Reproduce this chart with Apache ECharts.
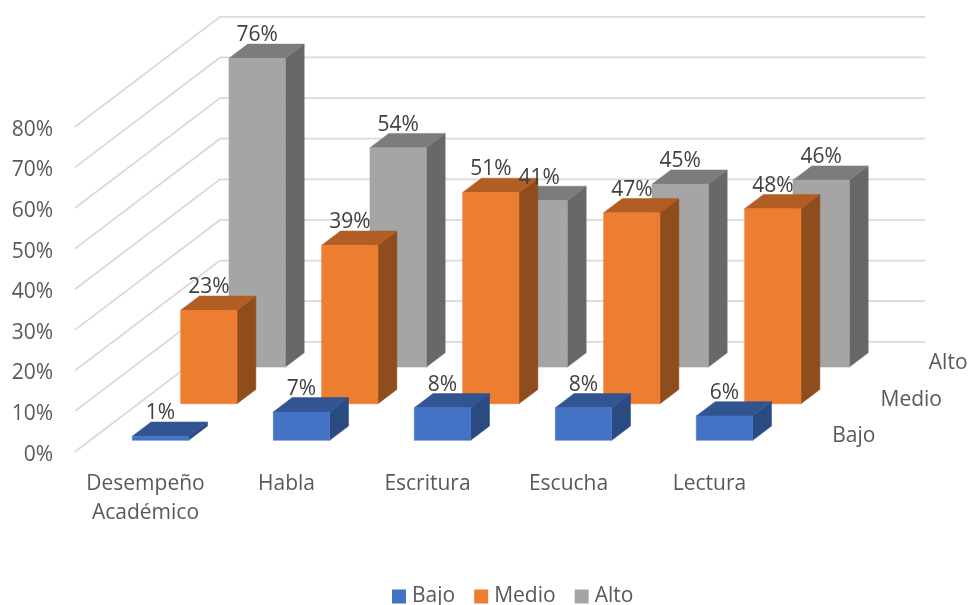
<!DOCTYPE html>
<html><head><meta charset="utf-8">
<script src="https://cdn.jsdelivr.net/npm/echarts@6/dist/echarts.min.js"></script>
<style>html,body{margin:0;padding:0;background:#fff}#c{width:969px;height:605px}</style>
</head><body><div id="c"></div>
<script>
const categories = ['Desempeño\nAcadémico', 'Habla', 'Escritura', 'Escucha', 'Lectura'];
const bajo = [1, 7, 8, 8, 6];
const medio = [23, 39, 52, 47, 48];
const alto = [76, 54, 41, 45, 46];
const bajoLabels = ['1%', '7%', '8%', '8%', '6%'];
const medioLabels = ['23%', '39%', '51%', '47%', '48%'];
const altoLabels = ['76%', '54%', '41%', '45%', '46%'];
const ticks = [0, 10, 20, 30, 40, 50, 60, 70, 80];
const depthNames = ['Bajo', 'Medio', 'Alto'];

const FONT = 'Open Sans';
const FS = 21;
const DEPTH = [48.33, -36.63];          // screen vector of one depth row
const GAP = 0.31, BAR_D = 0.39, BAR_W = 0.4;
const palette = {
  Bajo:  {front: '#4472C4', top: '#325491', side: '#2A4A82'},
  Medio: {front: '#ED7D31', top: '#B25D24', side: '#8F4D1D'},
  Alto:  {front: '#A5A5A5', top: '#7C7C7C', side: '#686868'}
};

function poly(points, fill, z2) {
  return {type: 'polygon', z2, shape: {points}, style: {fill, stroke: fill, lineWidth: 0.5}};
}
function boxSeries(name, values, labels, row) {
  const c = palette[name];
  return {
    name, type: 'custom', coordinateSystem: 'cartesian2d',
    itemStyle: {color: c.front},
    encode: {x: 0, y: 1},
    data: values.map((v, i) => [i, v]),
    renderItem(params, api) {
      const top = api.coord([api.value(0), api.value(1)]);
      const base = api.coord([api.value(0), 0]);
      const w = api.size([1, 0])[0] * BAR_W;
      const ox = (row + GAP) * DEPTH[0], oy = (row + GAP) * DEPTH[1];
      const ddx = BAR_D * DEPTH[0], ddy = BAR_D * DEPTH[1];
      const l = top[0] - w / 2 + ox, r = l + w, t = top[1] + oy, b = base[1] + oy;
      const z = 30 - row * 10;
      return {type: 'group', children: [
        poly([[r, t], [r + ddx, t + ddy], [r + ddx, b + ddy], [r, b]], c.side, z),
        poly([[l, t], [l + ddx, t + ddy], [r + ddx, t + ddy], [r, t]], c.top, z + 1),
        poly([[l, t], [r, t], [r, b], [l, b]], c.front, z + 2),
        {type: 'text', z2: 100, style: {
          text: labels[api.value(0)], x: (l + r) / 2, y: t - 23, align: 'center', verticalAlign: 'middle',
          fill: '#404040', font: FS + 'px "' + FONT + '"'}}
      ]};
    }
  };
}
const wallSeries = {
  name: 'wall', type: 'custom', coordinateSystem: 'cartesian2d', silent: true,
  encode: {y: 0},
  data: ticks.map(t => [t]),
  renderItem(params, api) {
    const cs = params.coordSys;
    const p = api.coord([0, api.value(0)]);
    const x0 = cs.x, y = p[1];
    const bx = x0 + 3 * DEPTH[0], by = y + 3 * DEPTH[1];
    return {type: 'polyline', z2: 1, shape: {points: [[x0, y], [bx, by], [cs.x + cs.width + 3 * DEPTH[0], by]]},
      style: {fill: null, stroke: '#D9D9D9', lineWidth: 1.75}};
  }
};
const depthAxisSeries = {
  name: 'depth', type: 'custom', coordinateSystem: 'cartesian2d', silent: true,
  encode: {y: 1},
  data: depthNames.map((n, i) => [i, 0]),
  renderItem(params, api) {
    const cs = params.coordSys;
    const row = api.value(0);
    const y0 = api.coord([0, 0])[1];
    return {type: 'text', z2: 100, style: {
      text: depthNames[row], x: cs.x + cs.width + (row + 0.5) * DEPTH[0] + 28,
      y: y0 + (row + 0.5) * DEPTH[1] + 3, align: 'left', verticalAlign: 'middle',
      fill: '#595959', font: FS + 'px "' + FONT + '"'}};
  }
};

const chart = echarts.init(document.getElementById('c'), null, {renderer: 'canvas'});
chart.setOption({
  animation: false,
  backgroundColor: '#fff',
  textStyle: {fontFamily: FONT},
  grid: {left: 75, top: 126.7, width: 705, height: 325, containLabel: false},
  legend: {
    data: depthNames, top: 586, left: 392, padding: 0, itemWidth: 14, itemHeight: 14, itemGap: 19, icon: 'rect',
    textStyle: {color: '#595959', fontSize: FS, fontFamily: FONT, padding: [1, 0, 0, 1]}
  },
  xAxis: {
    type: 'category', data: categories,
    axisLine: {show: false}, axisTick: {show: false}, splitLine: {show: false},
    axisLabel: {color: '#595959', fontSize: FS, fontFamily: FONT, margin: 18, lineHeight: 29, interval: 0}
  },
  yAxis: {
    type: 'value', min: 0, max: 80, interval: 10,
    axisLine: {show: false}, axisTick: {show: false}, splitLine: {show: false},
    axisLabel: {color: '#595959', fontSize: FS, fontFamily: FONT, margin: 22, verticalAlign: 'top', lineHeight: 6, formatter: '{value}%'}
  },
  series: [wallSeries, boxSeries('Alto', alto, altoLabels, 2), boxSeries('Medio', medio, medioLabels, 1), boxSeries('Bajo', bajo, bajoLabels, 0), depthAxisSeries]
});
</script></body></html>
